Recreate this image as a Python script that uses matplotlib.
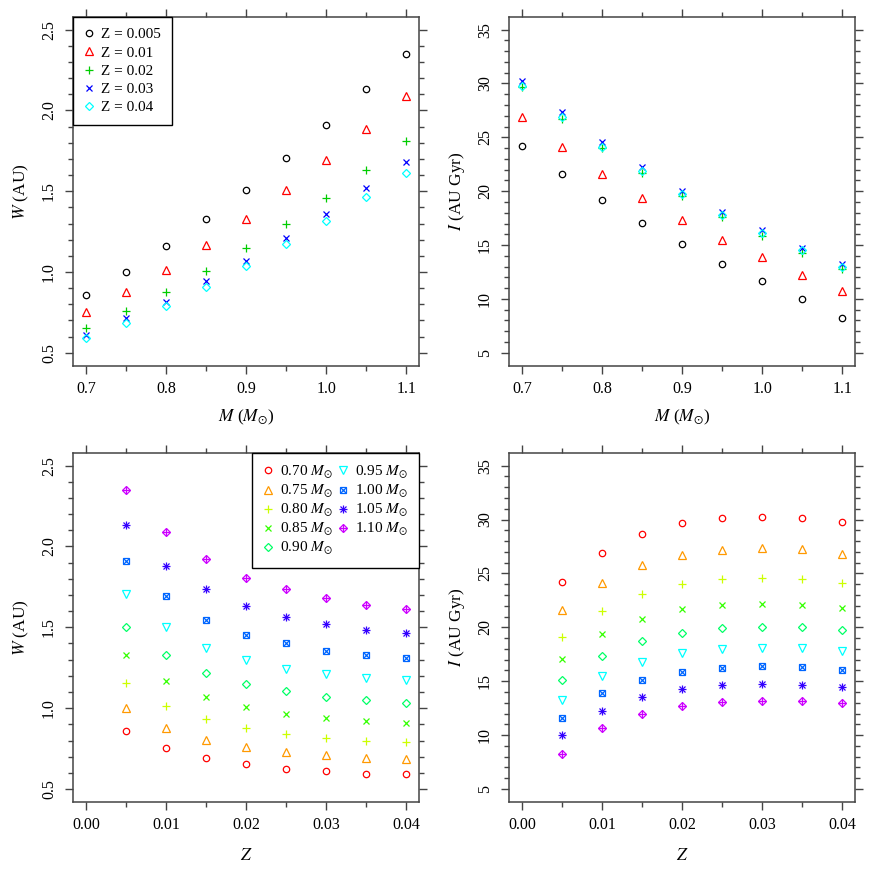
import matplotlib.pyplot as plt
from matplotlib.lines import Line2D

plt.rcParams['font.family'] = ['Liberation Serif', 'DejaVu Serif']
plt.rcParams['mathtext.fontset'] = 'stix'

# metallicity grid (columns) and stellar masses (rows)
z_grid = [0.005, 0.01, 0.015, 0.02, 0.025, 0.03, 0.035, 0.04]
masses = [0.70, 0.75, 0.80, 0.85, 0.90, 0.95, 1.00, 1.05, 1.10]
mass_labels = ['0.70', '0.75', '0.80', '0.85', '0.90', '0.95', '1.00', '1.05', '1.10']

# W (AU), one row per mass
w_au = [
    [0.857, 0.752, 0.692, 0.655, 0.624, 0.610, 0.593, 0.592],
    [1.001, 0.878, 0.805, 0.759, 0.729, 0.713, 0.694, 0.687],
    [1.158, 1.013, 0.931, 0.878, 0.838, 0.815, 0.799, 0.791],
    [1.326, 1.166, 1.067, 1.006, 0.962, 0.942, 0.920, 0.908],
    [1.505, 1.327, 1.219, 1.150, 1.104, 1.069, 1.050, 1.035],
    [1.703, 1.505, 1.371, 1.295, 1.240, 1.212, 1.184, 1.174],
    [1.911, 1.691, 1.547, 1.455, 1.400, 1.356, 1.330, 1.313],
    [2.131, 1.882, 1.734, 1.629, 1.565, 1.519, 1.481, 1.465],
    [2.349, 2.092, 1.921, 1.808, 1.736, 1.683, 1.641, 1.614],
]

# I (AU Gyr), one row per mass
i_au_gyr = [
    [24.18, 26.93, 28.64, 29.66, 30.12, 30.27, 30.15, 29.75],
    [21.59, 24.12, 25.79, 26.72, 27.18, 27.34, 27.24, 26.84],
    [19.14, 21.55, 23.13, 24.03, 24.46, 24.55, 24.49, 24.12],
    [17.07, 19.39, 20.78, 21.68, 22.08, 22.20, 22.11, 21.83],
    [15.12, 17.37, 18.74, 19.51, 19.94, 20.06, 20.01, 19.76],
    [13.27, 15.49, 16.79, 17.60, 17.97, 18.09, 18.06, 17.78],
    [11.62, 13.89, 15.12, 15.86, 16.26, 16.39, 16.33, 16.08],
    [9.99, 12.22, 13.54, 14.29, 14.63, 14.75, 14.68, 14.50],
    [8.26, 10.70, 12.00, 12.74, 13.11, 13.20, 13.20, 12.99],
]

# metallicities shown in the top panels
z_top = [0.005, 0.01, 0.02, 0.03, 0.04]
z_top_labels = ['Z = 0.005', 'Z = 0.01', 'Z = 0.02', 'Z = 0.03', 'Z = 0.04']

top_colors = ['#000000', '#FF0000', '#00CD00', '#0000FF', '#00FFFF']
top_markers = [
    [('o', 4.6)],
    [('^', 5.6)],
    [('+', 6.4)],
    [('x', 4.9)],
    [('D', 3.9)],
]
mass_colors = ['#FF0000', '#FF9900', '#CCFF00', '#33FF00', '#00FF66',
               '#00FFFF', '#0066FF', '#3300FF', '#CC00FF']
mass_markers = [
    [('o', 4.6)],
    [('^', 5.6)],
    [('+', 6.4)],
    [('x', 4.9)],
    [('D', 3.9)],
    [('v', 5.6)],
    [('s', 4.4), ('x', 4.4)],
    [('+', 6.2), ('x', 4.6)],
    [('D', 4.1), ('+', 5.8)],
]

AX_COL = '#444444'


def draw_points(ax, xs, ys, color, spec):
    handles = []
    for marker, size in spec:
        ax.plot(xs, ys, linestyle='none', marker=marker, markersize=size,
                markerfacecolor='none', markeredgecolor=color, markeredgewidth=0.9)
        handles.append(Line2D([], [], linestyle='none', marker=marker, markersize=size,
                              markerfacecolor='none', markeredgecolor=color,
                              markeredgewidth=0.9))
    return tuple(handles)


def style_axes(ax, xlim, xmajor, xminor, ylim, ymajor, yminor, xlabel, ylabel, xfmt, xpad):
    ax.set_xlim(*xlim)
    ax.set_ylim(*ylim)
    ax.set_xticks(xmajor)
    ax.set_xticks(xminor, minor=True)
    ax.set_yticks(ymajor)
    ax.set_yticks(yminor, minor=True)
    ax.set_xticklabels([xfmt % v for v in xmajor])
    ax.set_yticklabels(['%g' % v if v >= 5 else '%.1f' % v for v in ymajor])
    for s in ax.spines.values():
        s.set_color(AX_COL)
        s.set_linewidth(1.1)
    ax.tick_params(which='both', direction='out', top=True, right=True,
                   color=AX_COL, width=1.0, labelsize=11.5)
    ax.tick_params(which='major', length=5.8)
    ax.tick_params(which='minor', length=3.4)
    ax.tick_params(axis='x', pad=5)
    ax.tick_params(axis='y', labelrotation=90, pad=6)
    for lab in ax.get_yticklabels():
        lab.set_verticalalignment('center')
    ax.set_xlabel(xlabel, fontsize=12.5, labelpad=xpad)
    ax.set_ylabel(ylabel, fontsize=12.5, labelpad=7)


fig = plt.figure(figsize=(8.72, 8.72), dpi=100)
ax_wm = fig.add_axes([0.0841, 0.5806, 0.3964, 0.4003])
ax_im = fig.add_axes([0.5841, 0.5806, 0.3964, 0.4003])
ax_wz = fig.add_axes([0.0841, 0.0803, 0.3964, 0.4006])
ax_iz = fig.add_axes([0.5841, 0.0803, 0.3964, 0.4006])

# top panels: quantity vs mass for a few metallicities
top_handles = []
for k, z in enumerate(z_top):
    j = z_grid.index(z)
    w_col = [row[j] for row in w_au]
    i_col = [row[j] for row in i_au_gyr]
    h = draw_points(ax_wm, masses, w_col, top_colors[k], top_markers[k])
    draw_points(ax_im, masses, i_col, top_colors[k], top_markers[k])
    top_handles.append(h)

# bottom panels: quantity vs metallicity for every mass
mass_handles = []
for m in range(len(masses)):
    h = draw_points(ax_wz, z_grid, w_au[m], mass_colors[m], mass_markers[m])
    draw_points(ax_iz, z_grid, i_au_gyr[m], mass_colors[m], mass_markers[m])
    mass_handles.append(h)

m_ticks = [0.7, 0.8, 0.9, 1.0, 1.1]
m_minor = [0.75, 0.85, 0.95, 1.05]
z_ticks = [0.0, 0.01, 0.02, 0.03, 0.04]
z_minor = [0.005, 0.015, 0.025, 0.035]
w_ticks = [0.5, 1.0, 1.5, 2.0, 2.5]
w_minor = [0.6, 0.7, 0.8, 0.9, 1.1, 1.2, 1.3, 1.4, 1.6, 1.7, 1.8, 1.9, 2.1, 2.2, 2.3, 2.4]
i_ticks = [5, 10, 15, 20, 25, 30, 35]
i_minor = [v for v in range(5, 36) if v % 5 != 0]

w_label = r'$W$ (AU)'
i_label = r'$I$ (AU Gyr)'
m_label = r'$M$ ($M_{\odot}$)'
z_label = r'$Z$'

style_axes(ax_wm, (0.684, 1.116), m_ticks, m_minor, (0.42, 2.58), w_ticks, w_minor,
           m_label, w_label, '%.1f', 8)
style_axes(ax_im, (0.684, 1.116), m_ticks, m_minor, (3.8, 36.2), i_ticks, i_minor,
           m_label, i_label, '%.1f', 8)
style_axes(ax_wz, (-0.0016, 0.0416), z_ticks, z_minor, (0.42, 2.58), w_ticks, w_minor,
           z_label, w_label, '%.2f', 11)
style_axes(ax_iz, (-0.0016, 0.0416), z_ticks, z_minor, (3.8, 36.2), i_ticks, i_minor,
           z_label, i_label, '%.2f', 11)

leg1 = ax_wm.legend(top_handles, z_top_labels, loc='upper left', borderaxespad=0,
                    fancybox=False, edgecolor='black', framealpha=1, fontsize=11,
                    handlelength=0.55, handletextpad=0.55, labelspacing=0.3,
                    borderpad=0.72)
leg1.get_frame().set_linewidth(1.0)

mass_texts = [lab + r' $M_{\odot}$' for lab in mass_labels]
leg2 = ax_wz.legend(mass_handles, mass_texts, loc='upper right', borderaxespad=0,
                    ncol=2, fancybox=False, edgecolor='black', framealpha=1, fontsize=11,
                    handlelength=0.55, handletextpad=0.55, labelspacing=0.12,
                    borderpad=0.72, columnspacing=0.35)
leg2.get_frame().set_linewidth(1.0)

fig.savefig('out.png', dpi=100)
